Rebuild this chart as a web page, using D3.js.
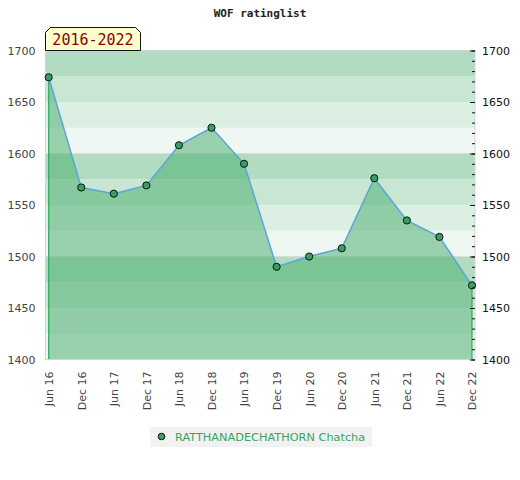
<!DOCTYPE html>
<html>
<head>
<meta charset="utf-8">
<script src="https://cdn.jsdelivr.net/npm/d3@7"></script>
<style>
    body { margin: 0; background: #fff; }
    #chart { width: 520px; height: 480px; }
</style>
</head>
<body>
<div id="chart"></div>
<script>
// data
const periods = ["Jun 16", "Dec 16", "Jun 17", "Dec 17", "Jun 18", "Dec 18", "Jun 19",
                 "Dec 19", "Jun 20", "Dec 20", "Jun 21", "Dec 21", "Jun 22", "Dec 22"];
const ratings = [1674, 1567, 1561, 1569, 1608, 1625, 1590, 1490, 1500, 1508, 1576, 1535, 1519, 1472];
const yTicks = [1400, 1450, 1500, 1550, 1600, 1650, 1700];
const playerName = "RATTHANADECHATHORN Chatcha";
const titleText = "WOF ratinglist";
const rangeLabel = "2016-2022";

const width = 520, height = 480;
const margin = { top: 50.5, right: 45, bottom: 120.5, left: 45.5 };

const svg = d3.select("#chart").append("svg")
    .attr("width", width)
    .attr("height", height);

const x = d3.scalePoint()
    .domain(periods)
    .range([48.7, 472]);

const y = d3.scaleLinear()
    .domain([1400, 1700])
    .range([height - margin.bottom, margin.top]);

const left = margin.left, right = width - margin.right;

// background bands, 25 points each, four shades repeating every 100
const bandColors = ["#b2dcc1", "#c8e6d2", "#dcefe3", "#eff7f2"];
const bandEdges = d3.range(1400, 1700, 25);
svg.append("g")
    .selectAll("rect")
    .data(bandEdges)
    .enter()
    .append("rect")
    .attr("x", left)
    .attr("width", right - left)
    .attr("y", d => y(d + 25))
    .attr("height", d => y(d) - y(d + 25))
    .attr("fill", d => bandColors[3 - ((d - 1400) / 25) % 4]);

// faint lines on the hundreds
svg.append("g")
    .selectAll("line")
    .data(yTicks.filter(d => d % 100 === 0))
    .enter()
    .append("line")
    .attr("x1", left).attr("x2", right)
    .attr("y1", d => y(d)).attr("y2", d => y(d))
    .attr("stroke", "#dcdcdc");

// area
const area = d3.area()
    .x((d, i) => x(periods[i]))
    .y0(y(1400))
    .y1(d => y(d));

svg.append("path")
    .datum(ratings)
    .attr("d", area)
    .attr("fill", "rgb(68,172,108)")
    .attr("fill-opacity", 0.5);

// green side edges of the area
svg.append("g")
    .selectAll("line")
    .data([0, ratings.length - 1])
    .enter()
    .append("line")
    .attr("x1", i => x(periods[i])).attr("x2", i => x(periods[i]))
    .attr("y1", i => y(ratings[i])).attr("y2", y(1400))
    .attr("stroke", "#2ea85a")
    .attr("stroke-width", 1.2);

// plot frame
svg.append("rect")
    .attr("x", left)
    .attr("y", y(1700))
    .attr("width", right - left)
    .attr("height", y(1400) - y(1700))
    .attr("fill", "none")
    .attr("stroke", "#d4d4d4");

// line
const line = d3.line()
    .x((d, i) => x(periods[i]))
    .y(d => y(d));

svg.append("path")
    .datum(ratings)
    .attr("d", line)
    .attr("fill", "none")
    .attr("stroke", "#5aa6d8")
    .attr("stroke-width", 1.5);

// markers
svg.append("g")
    .selectAll("circle")
    .data(ratings)
    .enter()
    .append("circle")
    .attr("cx", (d, i) => x(periods[i]))
    .attr("cy", d => y(d))
    .attr("r", 3.6)
    .attr("fill", "#35a060")
    .attr("stroke", "#111")
    .attr("stroke-width", 1);

// left axis
const leftAxis = svg.append("g")
    .attr("transform", `translate(${left},0)`)
    .call(d3.axisLeft(y).tickValues(yTicks).tickFormat(d3.format("d")).tickSize(0).tickPadding(10));
leftAxis.select(".domain").remove();
leftAxis.selectAll("text")
    .attr("fill", "#444")
    .style("font-family", "DejaVu Sans")
    .style("font-size", "11px");

// right axis with minor ticks inside
const rightMinor = svg.append("g")
    .attr("transform", `translate(${right},0)`)
    .call(d3.axisLeft(y).tickValues(d3.range(1400, 1701, 10)).tickSize(3).tickFormat(""));
rightMinor.select(".domain").remove();
rightMinor.selectAll("line").attr("stroke", "#111");

const rightAxis = svg.append("g")
    .attr("transform", `translate(${right},0)`)
    .call(d3.axisRight(y).tickValues(yTicks).tickFormat(d3.format("d")).tickSize(0).tickPadding(7));
rightAxis.select(".domain").remove();
rightAxis.selectAll(".tick").append("line")
    .attr("x1", -5).attr("x2", 0)
    .attr("stroke", "#111");
rightAxis.selectAll("text")
    .attr("fill", "#111")
    .style("font-family", "DejaVu Sans")
    .style("font-size", "11px");

// bottom axis, rotated labels
const bottomAxis = svg.append("g")
    .attr("transform", `translate(0,${y(1400)})`)
    .call(d3.axisBottom(x).tickSize(0));
bottomAxis.select(".domain").remove();
bottomAxis.selectAll("text")
    .attr("transform", "rotate(-90)")
    .attr("x", -12)
    .attr("y", 0)
    .attr("dy", "0.35em")
    .style("text-anchor", "end")
    .attr("fill", "#444")
    .style("font-family", "DejaVu Sans")
    .style("font-size", "11px");

// title
svg.append("text")
    .attr("x", 260)
    .attr("y", 16.5)
    .attr("text-anchor", "middle")
    .attr("fill", "#222")
    .style("font-family", "DejaVu Sans Mono")
    .style("font-weight", "bold")
    .style("font-size", "11px")
    .text(titleText);

// range label with clipped top corners
const bx0 = 45.5, bx1 = 140.5, by0 = 27.5, by1 = 50.5, cut = 5;
svg.append("path")
    .attr("d", `M${bx0},${by1} L${bx0},${by0 + cut} L${bx0 + cut},${by0} L${bx1 - cut},${by0} L${bx1},${by0 + cut} L${bx1},${by1} Z`)
    .attr("fill", "#ffffcc")
    .attr("stroke", "#111")
    .attr("stroke-width", 1);

svg.append("text")
    .attr("x", 93)
    .attr("y", 45)
    .attr("text-anchor", "middle")
    .attr("fill", "#8b0000")
    .style("font-family", "DejaVu Sans Mono")
    .style("font-size", "15px")
    .text(rangeLabel);

// legend
const legend = svg.append("g");
legend.append("rect")
    .attr("x", 150)
    .attr("y", 427)
    .attr("width", 222)
    .attr("height", 20)
    .attr("fill", "#f2f2f2");
legend.append("circle")
    .attr("cx", 161.5)
    .attr("cy", 436.5)
    .attr("r", 3.3)
    .attr("fill", "#35a060")
    .attr("stroke", "#111");
legend.append("text")
    .attr("x", 175)
    .attr("y", 440.5)
    .attr("fill", "#3aa35f")
    .style("font-family", "DejaVu Sans")
    .style("font-size", "11.3px")
    .text(playerName);
</script>
</body>
</html>
